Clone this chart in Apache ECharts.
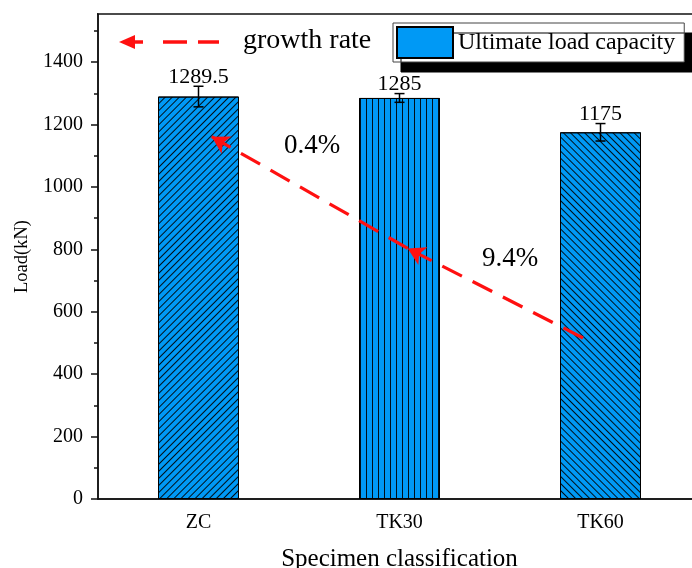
<!DOCTYPE html>
<html>
<head>
<meta charset="utf-8">
<script src="https://cdn.jsdelivr.net/npm/echarts@6/dist/echarts.min.js"></script>
<style>
html,body{margin:0;padding:0;background:#fff;}
#chart{width:692px;height:568px;}
</style>
</head>
<body>
<div id="chart"></div>
<script>
// ---- data ----
const categories = ['ZC', 'TK30', 'TK60'];
const loads = [1289.5, 1285, 1175];
const loadErrors = [33, 14, 28];
const loadLabels = ['1289.5', '1285', '1175'];
const growthRates = ['0.4%', '9.4%'];
// growth-rate arrow path (annotation, in [category position, load] units)
const arrowPath = [[1.913, 516], [1.041, 803], [0.066, 1161]];
const growthLabelPos = [[0.565, 1132], [1.55, 768]];

const FONT = 'Liberation Serif, Times New Roman, serif';
const BLUE = '#0099F5';

const hatch = [
  {symbol: 'rect', symbolSize: 1, color: 'rgba(0,0,0,0.9)', dashArrayX: [1, 0], dashArrayY: [1, 3.2], rotation: -Math.PI / 4},
  {symbol: 'rect', symbolSize: 1, color: 'rgba(0,0,0,0.9)', dashArrayX: [1, 5], dashArrayY: [1, 0], rotation: 0},
  {symbol: 'rect', symbolSize: 1, color: 'rgba(0,0,0,0.9)', dashArrayX: [1, 0], dashArrayY: [1, 3.2], rotation: Math.PI / 4}
];

const chart = echarts.init(document.getElementById('chart'), null, {renderer: 'canvas'});

const option = {
  animation: false,
  backgroundColor: '#fff',
  grid: {left: 98, top: 14, right: -9, bottom: 69, containLabel: false, outerBoundsMode: 'none',
    show: true, borderColor: '#111', borderWidth: 1.5, backgroundColor: 'transparent'},
  legend: {
    data: ['Ultimate load capacity'],
    left: 393, top: 23,
    padding: [3, 9, 3, 3],
    itemWidth: 56, itemHeight: 31,
    icon: 'rect',
    selectedMode: false,
    backgroundColor: '#fff',
    borderColor: '#444', borderWidth: 1,
    shadowColor: '#000', shadowBlur: 0, shadowOffsetX: 8, shadowOffsetY: 10,
    textStyle: {fontFamily: FONT, fontSize: 24, color: '#000'}
  },
  xAxis: [{
    type: 'category',
    data: categories,
    axisLine: {show: true, onZero: false, lineStyle: {color: '#111', width: 1.5}},
    axisTick: {show: false},
    axisLabel: {fontFamily: FONT, fontSize: 20, color: '#000', margin: 14},
    name: 'Specimen classification',
    nameLocation: 'middle',
    nameGap: 48,
    nameTextStyle: {fontFamily: FONT, fontSize: 25, color: '#000'}
  }, {
    type: 'value', min: -0.5, max: 2.5, show: false,
    axisLine: {onZero: false}
  }],
  yAxis: {
    type: 'value',
    min: 0, max: 1554, interval: 200,
    axisLine: {show: true, onZero: false, lineStyle: {color: '#111', width: 1.5}},
    axisTick: {show: true, inside: false, length: 7, lineStyle: {color: '#111', width: 1.5}},
    minorTick: {show: true, splitNumber: 2, length: 4, lineStyle: {color: '#111', width: 1.5}},
    splitLine: {show: false},
    axisLabel: {fontFamily: FONT, fontSize: 20, color: '#000', margin: 15, showMaxLabel: false,
      formatter: v => String(v)},
    name: 'Load(kN)',
    nameLocation: 'middle',
    nameGap: 60,
    nameTextStyle: {fontFamily: FONT, fontSize: 18.5, color: '#000'}
  },
  series: [{
    name: 'Ultimate load capacity',
    type: 'bar',
    barWidth: 81,
    data: loads.map((v, i) => ({value: v, itemStyle: {decal: hatch[i]}})),
    itemStyle: {color: BLUE, borderColor: '#000', borderWidth: 1},
    emphasis: {disabled: true}
  }, {
    type: 'custom',
    name: 'err',
    z: 5,
    silent: true,
    data: loads.map((v, i) => [i, v - loadErrors[i], v + loadErrors[i]]),
    renderItem: function (params, api) {
      const x = api.value(0);
      const lo = api.coord([x, api.value(1)]);
      const hi = api.coord([x, api.value(2)]);
      const hw = 5;
      const st = {stroke: '#000', lineWidth: 1.5};
      return {type: 'group', children: [
        {type: 'line', shape: {x1: lo[0], y1: lo[1], x2: hi[0], y2: hi[1]}, style: st},
        {type: 'line', shape: {x1: lo[0] - hw, y1: lo[1], x2: lo[0] + hw, y2: lo[1]}, style: st},
        {type: 'line', shape: {x1: hi[0] - hw, y1: hi[1], x2: hi[0] + hw, y2: hi[1]}, style: st},
        {type: 'text', x: hi[0], y: hi[1] + 1.5, style: {
          text: loadLabels[params.dataIndex], font: '22px ' + FONT, fill: '#000',
          align: 'center', verticalAlign: 'bottom'}}
      ]};
    }
  }, {
    type: 'line',
    name: 'growth',
    xAxisIndex: 1,
    data: [],
    silent: true,
    markLine: {
      silent: true,
      symbol: ['none', 'arrow'],
      symbolSize: [15, 17],
      label: {show: false},
      lineStyle: {color: '#FF1010', width: 3.2, type: [22, 12]},
      emphasis: {disabled: true},
      data: [
        [{coord: arrowPath[0]}, {coord: arrowPath[1]}],
        [{coord: arrowPath[1]}, {coord: arrowPath[2]}]
      ]
    },
    markPoint: {
      silent: true,
      symbol: 'circle', symbolSize: 0,
      label: {show: true, position: 'inside', formatter: '{b}', fontFamily: FONT, fontSize: 27, color: '#000'},
      data: growthRates.map((t, i) => ({name: t, coord: growthLabelPos[i]}))
    }
  }],
  graphic: [{
    type: 'rect', silent: true, z: 100,
    shape: {x: 86, y: 10, width: 11, height: 7},
    style: {fill: '#fff'}
  }, {
    type: 'group', silent: true,
    children: [
      {type: 'polygon', shape: {points: [[119, 42], [135, 35], [135, 49]]}, style: {fill: '#FF1010'}},
      {type: 'line', shape: {x1: 132, y1: 42, x2: 143, y2: 42}, style: {stroke: '#FF1010', lineWidth: 3.5}},
      {type: 'line', shape: {x1: 163, y1: 42, x2: 187, y2: 42}, style: {stroke: '#FF1010', lineWidth: 3.5}},
      {type: 'line', shape: {x1: 198, y1: 42, x2: 219, y2: 42}, style: {stroke: '#FF1010', lineWidth: 3.5}},
      {type: 'text', left: 243, top: 27, style: {text: 'growth rate', font: '28px ' + FONT, fill: '#000'}}
    ]
  }]
};
chart.setOption(option);
</script>
</body>
</html>
